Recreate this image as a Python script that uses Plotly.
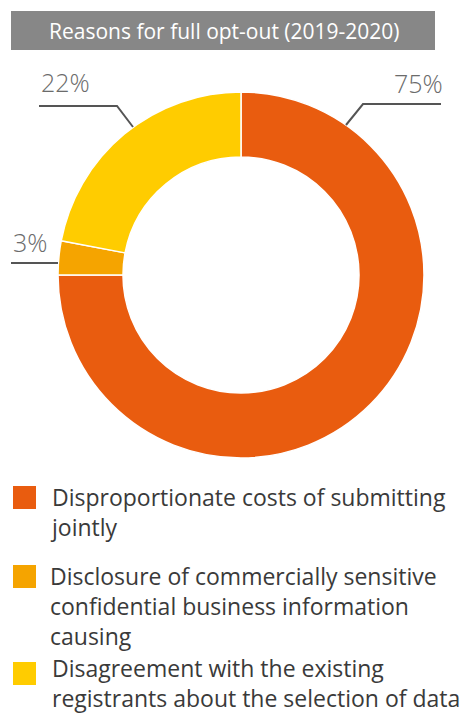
import plotly.graph_objects as go

categories = [
    "Disproportionate costs of submitting<br>jointly",
    "Disclosure of commercially sensitive<br>confidential business information<br>causing",
    "Disagreement with the existing<br>registrants about the selection of data",
]
values = [75, 3, 22]
pct_labels = ["75%", "3%", "22%"]
colors = ["#E95C0F", "#F5A400", "#FFCC00"]
title_text = "Reasons for full opt-out (2019-2020)"

W, H = 468, 715

def px(x):
    return x / W

def py(y):
    return 1 - y / H

cx, cy, R = 241, 275, 183

fig = go.Figure()
fig.add_trace(go.Pie(
    values=values,
    labels=[c.replace("<br>", " ") for c in categories],
    marker=dict(colors=colors, line=dict(color="white", width=1.5)),
    hole=0.645,
    sort=False,
    direction="clockwise",
    rotation=0,
    textinfo="none",
    hoverinfo="label+percent",
    domain=dict(x=[px(cx - R), px(cx + R)], y=[py(cy + R), py(cy - R)]),
    showlegend=False,
))

shapes = []
annotations = []

# Title box
shapes.append(dict(type="rect", xref="paper", yref="paper",
                   x0=px(11), x1=px(435), y0=py(50), y1=py(11),
                   fillcolor="#878787", line=dict(width=0), layer="below"))
annotations.append(dict(text=title_text, xref="paper", yref="paper",
                        x=px(224), y=py(30.5), xanchor="center", yanchor="middle",
                        showarrow=False,
                        font=dict(family="Open Sans", size=21, color="white")))

# Leader lines and percentage labels
line_col = "#555555"
leaders = [
    # 75%
    dict(pts=[(346, 125), (363, 104), (441, 104)], label=(pct_labels[0], 445, 97, "right")),
    # 3%
    dict(pts=[(58, 263), (11, 263)], label=(pct_labels[1], 11, 256, "left")),
    # 22%
    dict(pts=[(133, 127), (117, 106), (39, 106)], label=(pct_labels[2], 39, 96, "left")),
]
for ld in leaders:
    p = ld["pts"]
    path = "M " + " L ".join(f"{px(x)},{py(y)}" for x, y in p)
    shapes.append(dict(type="path", xref="paper", yref="paper", path=path,
                       line=dict(color=line_col, width=2)))
    t, lx, ly, anchor = ld["label"]
    annotations.append(dict(text=t, xref="paper", yref="paper",
                            x=px(lx), y=py(ly + 5), xanchor=anchor, yanchor="bottom",
                            showarrow=False,
                            font=dict(family="Open Sans", size=25, color="#6B6B6B", weight=300)))

# Custom legend
legend_rows = [486, 565, 662]
for i, (cat, col, top) in enumerate(zip(categories, colors, legend_rows)):
    shapes.append(dict(type="rect", xref="paper", yref="paper",
                       x0=px(13), x1=px(36), y0=py(top + 23), y1=py(top),
                       fillcolor=col, line=dict(width=0)))
    if i < len(categories) - 1:
        pos = dict(x=px(48), y=py(top - 7), yanchor="top", borderpad=1)
    else:
        pos = dict(x=px(51), y=0, yanchor="bottom", borderpad=0)
    annotations.append(dict(text=cat, xref="paper", yref="paper",
                            xanchor="left",
                            align="left", showarrow=False,
                            font=dict(family="Open Sans", size=23, color="#3A3A3A"),
                            **pos))

fig.update_layout(
    width=W, height=H,
    margin=dict(l=0, r=0, t=0, b=0),
    paper_bgcolor="white", plot_bgcolor="white",
    shapes=shapes, annotations=annotations,
    showlegend=False,
)

fig.write_html("out.html", config={"displayModeBar": False})
